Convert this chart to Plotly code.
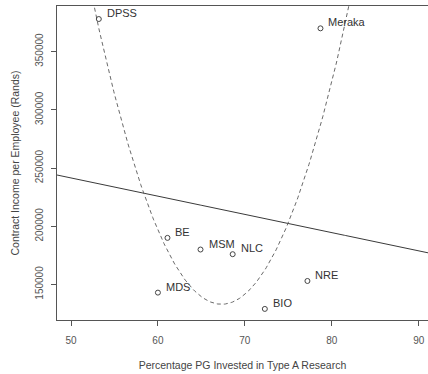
import numpy as np
import plotly.graph_objects as go

units = ["DPSS", "Meraka", "BE", "MDS", "MSM", "NLC", "NRE", "BIO"]
pct_type_a = [53.2, 78.7, 61.1, 60.0, 64.9, 68.6, 77.2, 72.3]
income = [378000, 370000, 190000, 143000, 180000, 176000, 153000, 129000]

x_ticks = [50, 60, 70, 80, 90]
y_ticks = [150000, 200000, 250000, 300000, 350000]

x = np.array(pct_type_a)
y = np.array(income)

xr = [48.39, 91.07]
yr = [119470, 389190]

lin = np.polyfit(x, y, 1)
quad = np.polyfit(x, y, 2)
xs = np.linspace(xr[0], xr[1], 400)

FONT = "Liberation Sans, Arial, sans-serif"
fig = go.Figure()
fig.add_trace(go.Scatter(x=xs, y=np.polyval(lin, xs), mode="lines",
                         line=dict(color="#3a3a3a", width=1), hoverinfo="skip"))
fig.add_trace(go.Scatter(x=xs, y=np.polyval(quad, xs), mode="lines",
                         line=dict(color="#6a6a6a", width=1, dash="4px,3px"), hoverinfo="skip"))
fig.add_trace(go.Scatter(x=x, y=y, mode="markers",
                         marker=dict(symbol="circle-open", size=5, color="#444", line=dict(width=1))))

for u, xi, yi in zip(units, pct_type_a, income):
    fig.add_annotation(x=xi, y=yi, text=u, showarrow=False, xanchor="left", yanchor="middle",
                       xshift=6, yshift=6, font=dict(family=FONT, size=11, color="#333"))

fig.update_layout(
    width=428, height=374, showlegend=False,
    margin=dict(l=57, r=0, t=6, b=54),
    plot_bgcolor="white", paper_bgcolor="white",
    font=dict(family=FONT, size=10, color="#555"),
)
fig.update_xaxes(range=xr, tickvals=x_ticks, ticks="outside", ticklen=5, tickcolor="#555",
                 showgrid=False, zeroline=False, showline=True, linecolor="#555", linewidth=1,
                 mirror=True, ticklabelstandoff=6, automargin=False,
                 tickfont=dict(size=10, color="#555"),
                 title=dict(text="Percentage PG Invested in Type A Research",
                            font=dict(size=10.5, color="#444"), standoff=16))
fig.update_yaxes(range=yr, tickvals=y_ticks, tickformat="d", ticks="outside", ticklen=5, tickcolor="#555",
                 showgrid=False, zeroline=False, showline=True, linecolor="#555", linewidth=1,
                 mirror=False, tickangle=-90, ticklabelstandoff=4, automargin=False,
                 tickfont=dict(size=10, color="#555"),
                 title=dict(text="Contract Income per Employee (Rands)",
                            font=dict(size=10.5, color="#444"), standoff=12))

fig.write_html("out.html", config={"displayModeBar": False},
               post_script="document.body.style.margin='0';")
